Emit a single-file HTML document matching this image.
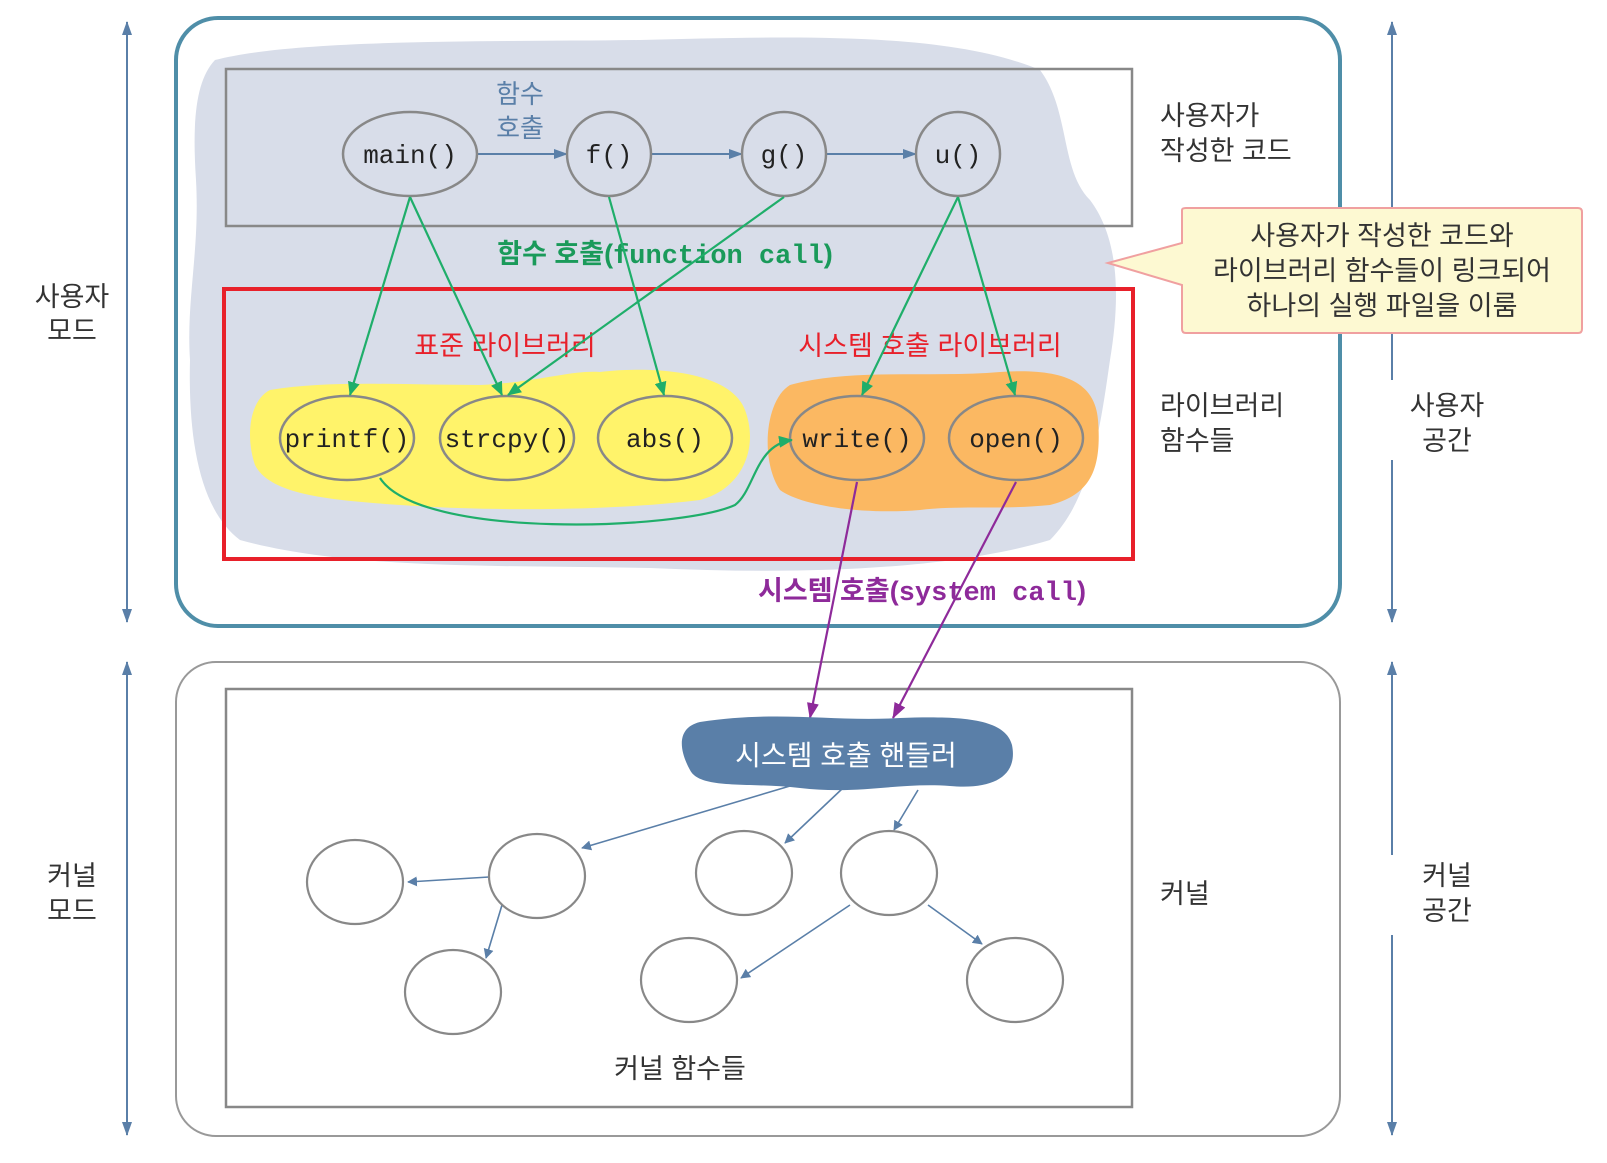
<!DOCTYPE html>
<html><head><meta charset="utf-8"><style>
body{margin:0;background:#fff}
svg text{font-family:"Liberation Sans","Noto Sans CJK KR",sans-serif}
.k{font-size:27px;fill:#333}
.m{font-family:"Liberation Mono","DejaVu Sans Mono",monospace!important;font-size:26px;fill:#222}
</style></head><body>
<svg width="1607" height="1158" viewBox="0 0 1607 1158" xmlns="http://www.w3.org/2000/svg">
<defs>
<marker id="ab" markerWidth="10" markerHeight="10" refX="9" refY="5" orient="auto" markerUnits="userSpaceOnUse"><path d="M0,0 L16,5 L0,10 Z" fill="#5a7fa8" transform="scale(0.62,1)"/></marker>
<marker id="ag" markerWidth="14" markerHeight="12" refX="13" refY="6" orient="auto" markerUnits="userSpaceOnUse"><path d="M0,0 L14,6 L0,12 Z" fill="#1fae6a"/></marker>
<marker id="ap" markerWidth="16" markerHeight="12" refX="15" refY="6" orient="auto" markerUnits="userSpaceOnUse"><path d="M0,0 L16,6 L0,12 Z" fill="#8e2a9a"/></marker>
<marker id="as" markerWidth="14" markerHeight="10" refX="13" refY="5" orient="auto" markerUnits="userSpaceOnUse"><path d="M0,0 L14,5 L0,10 Z" fill="#5a7fa8"/></marker>
<marker id="as2" markerWidth="14" markerHeight="10" refX="1" refY="5" orient="auto" markerUnits="userSpaceOnUse"><path d="M14,0 L0,5 L14,10 Z" fill="#5a7fa8"/></marker>
</defs>
<!-- side arrows -->
<g stroke="#5a7fa8" stroke-width="2" fill="none">
<line x1="127" y1="22" x2="127" y2="622" marker-start="url(#as2)" marker-end="url(#as)"/>
<line x1="127" y1="662" x2="127" y2="1135" marker-start="url(#as2)" marker-end="url(#as)"/>
<line x1="1392" y1="22" x2="1392" y2="622" marker-start="url(#as2)" marker-end="url(#as)"/>
<line x1="1392" y1="662" x2="1392" y2="1135" marker-start="url(#as2)" marker-end="url(#as)"/>
</g>
<rect x="60" y="268" width="30" height="80" fill="#fff"/>
<text class="k" x="72" y="306" text-anchor="middle">사용자</text>
<text class="k" x="72" y="340" text-anchor="middle">모드</text>
<text class="k" x="72" y="885" text-anchor="middle">커널</text>
<text class="k" x="72" y="920" text-anchor="middle">모드</text>
<rect x="1375" y="380" width="35" height="80" fill="#fff"/>
<text class="k" x="1447" y="415" text-anchor="middle">사용자</text>
<text class="k" x="1447" y="450" text-anchor="middle">공간</text>
<rect x="1375" y="855" width="35" height="80" fill="#fff"/>
<text class="k" x="1447" y="885" text-anchor="middle">커널</text>
<text class="k" x="1447" y="920" text-anchor="middle">공간</text>

<rect x="176" y="18" width="1164" height="608" rx="42" fill="#fff" stroke="#4f8ea8" stroke-width="4"/>
<rect x="176" y="662" width="1164" height="474" rx="40" fill="#fff" stroke="#999" stroke-width="2"/>

<!-- blob -->
<path d="M215,60 C300,38 500,42 640,40 C800,36 950,32 1040,70 C1070,110 1060,170 1090,200 C1120,240 1120,300 1110,360 C1100,430 1090,500 1050,540 C950,570 800,575 650,568 C500,565 350,570 240,540 C200,510 188,440 190,360 C186,300 200,250 196,180 C192,120 196,80 215,60 Z" fill="#d8dde9"/>

<rect x="226" y="69" width="906" height="157" fill="none" stroke="#888" stroke-width="2.5"/>
<text x="520" y="103" text-anchor="middle" style="font-size:26px;fill:#5a7fa8">함수</text>
<text x="520" y="137" text-anchor="middle" style="font-size:26px;fill:#5a7fa8">호출</text>
<text class="k" x="1160" y="125">사용자가</text>
<text class="k" x="1160" y="160">작성한 코드</text>

<g stroke="#5a7fa8" stroke-width="2" fill="none">
<line x1="477" y1="154" x2="567" y2="154" marker-end="url(#as)"/>
<line x1="652" y1="154" x2="742" y2="154" marker-end="url(#as)"/>
<line x1="827" y1="154" x2="916" y2="154" marker-end="url(#as)"/>
</g>
<g fill="#d8dde9" stroke="#888" stroke-width="2.5">
<ellipse cx="410" cy="154" rx="67" ry="42"/>
<ellipse cx="609" cy="154" rx="42" ry="42"/>
<ellipse cx="784" cy="154" rx="42" ry="42"/>
<ellipse cx="958" cy="154" rx="42" ry="42"/>
</g>
<text class="m" x="410" y="163" text-anchor="middle">main()</text>
<text class="m" x="609" y="163" text-anchor="middle">f()</text>
<text class="m" x="784" y="163" text-anchor="middle">g()</text>
<text class="m" x="958" y="163" text-anchor="middle">u()</text>

<text x="665" y="263" text-anchor="middle" style="font-size:27px;font-weight:bold;fill:#1a9a5a">함수 호출(<tspan style="font-family:'Liberation Mono',monospace">function call</tspan>)</text>

<rect x="224" y="289" width="909" height="270" fill="none" stroke="#e8202a" stroke-width="4"/>
<text x="505" y="355" text-anchor="middle" style="font-size:27px;fill:#e8202a">표준 라이브러리</text>
<text x="930" y="355" text-anchor="middle" style="font-size:27px;fill:#e8202a">시스템 호출 라이브러리</text>

<path d="M270,390 C330,380 400,385 480,385 C540,382 570,370 600,372 C650,366 730,370 745,410 C760,450 740,490 700,500 C620,510 500,512 400,505 C330,500 270,495 255,465 C245,435 250,400 270,390 Z" fill="#fff36a"/>
<path d="M790,385 C850,368 930,378 1000,372 C1060,368 1095,380 1098,420 C1102,470 1090,495 1050,505 C1000,510 960,505 920,510 C860,515 800,505 780,490 C760,460 765,400 790,385 Z" fill="#fbb862"/>

<g stroke="#888" stroke-width="2.5">
<ellipse cx="347" cy="438" rx="67" ry="42" fill="#fff36a"/>
<ellipse cx="507" cy="438" rx="67" ry="42" fill="#fff36a"/>
<ellipse cx="665" cy="438" rx="67" ry="42" fill="#fff36a"/>
<ellipse cx="857" cy="438" rx="67" ry="42" fill="#fbb862"/>
<ellipse cx="1016" cy="438" rx="67" ry="42" fill="#fbb862"/>
</g>
<text class="m" x="347" y="447" text-anchor="middle">printf()</text>
<text class="m" x="507" y="447" text-anchor="middle">strcpy()</text>
<text class="m" x="665" y="447" text-anchor="middle">abs()</text>
<text class="m" x="857" y="447" text-anchor="middle">write()</text>
<text class="m" x="1016" y="447" text-anchor="middle">open()</text>

<g stroke="#1fae6a" stroke-width="2.2" fill="none">
<line x1="410" y1="197" x2="350" y2="395" marker-end="url(#ag)"/>
<line x1="410" y1="197" x2="502" y2="395" marker-end="url(#ag)"/>
<line x1="609" y1="197" x2="664" y2="395" marker-end="url(#ag)"/>
<line x1="784" y1="197" x2="508" y2="395" marker-end="url(#ag)"/>
<line x1="958" y1="197" x2="862" y2="395" marker-end="url(#ag)"/>
<line x1="958" y1="197" x2="1015" y2="395" marker-end="url(#ag)"/>
<path d="M380,478 C420,540 680,530 735,505 C755,490 755,445 792,440" marker-end="url(#ag)"/>
</g>

<path d="M1108,263 L1182,243 L1182,210 Q1182,208 1186,208 L1578,208 Q1582,208 1582,212 L1582,329 Q1582,333 1578,333 L1186,333 Q1182,333 1182,329 L1182,285 Z" fill="#fdf9d2" stroke="#f0a0a0" stroke-width="2"/>
<text class="k" x="1382" y="245" text-anchor="middle">사용자가 작성한 코드와</text>
<text class="k" x="1382" y="280" text-anchor="middle">라이브러리 함수들이 링크되어</text>
<text class="k" x="1382" y="315" text-anchor="middle">하나의 실행 파일을 이룸</text>

<text class="k" x="1160" y="415">라이브러리</text>
<text class="k" x="1160" y="450">함수들</text>

<text x="922" y="600" text-anchor="middle" style="font-size:27px;font-weight:bold;fill:#8e2a9a">시스템 호출(<tspan style="font-family:'Liberation Mono',monospace">system call</tspan>)</text>

<rect x="226" y="689" width="906" height="418" fill="none" stroke="#888" stroke-width="2.5"/>
<g stroke="#8e2a9a" stroke-width="2.2">
<line x1="857" y1="482" x2="810" y2="718" marker-end="url(#ap)"/>
<line x1="1016" y1="482" x2="893" y2="718" marker-end="url(#ap)"/>
</g>
<path d="M700,722 C780,710 830,722 900,718 C960,716 1005,718 1012,745 C1018,775 995,790 950,786 C900,782 860,795 800,788 C750,782 700,790 690,770 C680,752 675,728 700,722 Z" fill="#5a7fa8"/>
<text x="846" y="765" text-anchor="middle" style="font-size:28px;fill:#fff">시스템 호출 핸들러</text>

<g stroke="#5a7fa8" stroke-width="1.6" fill="none">
<line x1="790" y1="786" x2="582" y2="848" marker-end="url(#ab)"/>
<line x1="843" y1="788" x2="785" y2="843" marker-end="url(#ab)"/>
<line x1="918" y1="790" x2="894" y2="830" marker-end="url(#ab)"/>
<line x1="489" y1="877" x2="408" y2="882" marker-end="url(#ab)"/>
<line x1="502" y1="905" x2="486" y2="958" marker-end="url(#ab)"/>
<line x1="850" y1="905" x2="741" y2="978" marker-end="url(#ab)"/>
<line x1="928" y1="905" x2="982" y2="944" marker-end="url(#ab)"/>
</g>
<g fill="#fff" stroke="#888" stroke-width="2.2">
<ellipse cx="355" cy="882" rx="48" ry="42"/>
<ellipse cx="537" cy="876" rx="48" ry="42"/>
<ellipse cx="744" cy="873" rx="48" ry="42"/>
<ellipse cx="889" cy="873" rx="48" ry="42"/>
<ellipse cx="453" cy="992" rx="48" ry="42"/>
<ellipse cx="689" cy="980" rx="48" ry="42"/>
<ellipse cx="1015" cy="980" rx="48" ry="42"/>
</g>
<text class="k" x="1160" y="903">커널</text>
<text class="k" x="680" y="1078" text-anchor="middle">커널 함수들</text>
</svg>
</body></html>
